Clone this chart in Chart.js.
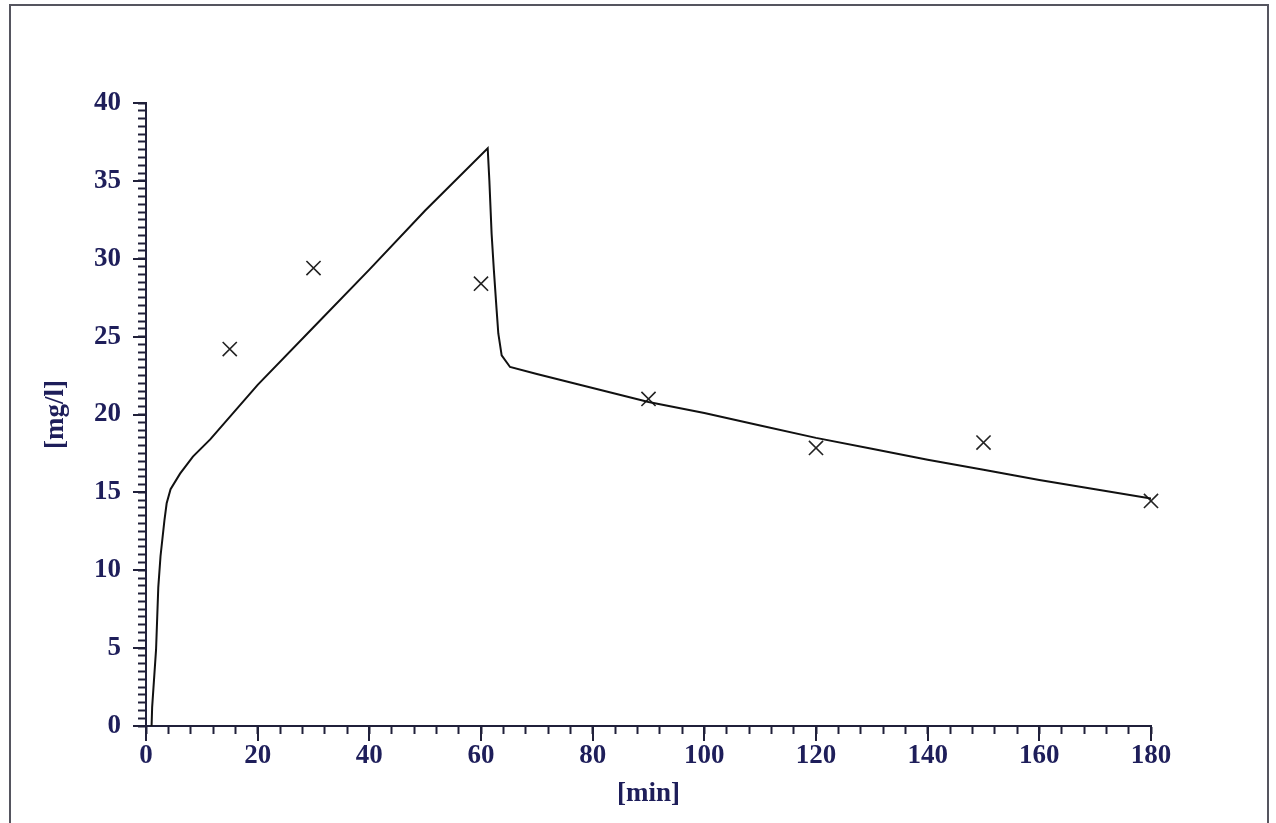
<!DOCTYPE html>
<html>
<head>
<meta charset="utf-8">
<script src="https://cdn.jsdelivr.net/npm/chart.js@4/dist/chart.umd.min.js"></script>
<style>
  html, body { margin: 0; padding: 0; background: #ffffff; overflow: hidden; }
  #wrap { position: relative; width: 1276px; height: 823px; }
  #frame { position: absolute; left: 9px; top: 4px; width: 1260px; height: 830px; border: 2px solid #55555f; box-sizing: border-box; }
  canvas { position: absolute; left: 0; top: 0; }
</style>
</head>
<body>
<div id="wrap">
  <div id="frame"></div>
  <canvas id="myChart" width="1276" height="823"></canvas>
</div>
<script>
// model curve
var lineTimes = [1.0, 1.1, 1.8, 2.2, 2.6, 3.3, 3.7, 4.4, 6.1, 8.4, 11.5, 20, 30, 40, 50, 61.2, 61.5, 61.9, 62.3, 62.8, 63.1, 63.7, 65.2, 70, 80, 90, 100, 110, 120, 130, 140, 150, 160, 170, 180];
var lineConc = [0, 1.2, 4.9, 8.9, 10.9, 13.2, 14.3, 15.2, 16.2, 17.3, 18.4, 21.9, 25.6, 29.3, 33.1, 37.1, 35.0, 31.6, 29.3, 26.7, 25.2, 23.8, 23.05, 22.6, 21.7, 20.8, 20.1, 19.3, 18.5, 17.8, 17.1, 16.45, 15.8, 15.2, 14.6];

// measured samples
var sampleTimes = [15, 30, 60, 90, 120, 150, 180];
var sampleConc = [24.2, 29.4, 28.4, 21.0, 17.85, 18.2, 14.45];

var xLabels = [0, 20, 40, 60, 80, 100, 120, 140, 160, 180];
var yLabels = [0, 5, 10, 15, 20, 25, 30, 35, 40];

var textColor = '#1e1e5a';
var axisColor = '#20203a';
var labelFont = { family: "'Liberation Serif', serif", size: 27, weight: 'bold' };

function toPoints(xs, ys) {
	var pts = [];
	for (var i = 0; i < xs.length; i++) pts.push({ x: xs[i], y: ys[i] });
	return pts;
}

// longer ticks at the labelled values
var majorTicks = {
	id: 'majorTicks',
	afterDraw: function(chart) {
		var c = chart.ctx, xs = chart.scales.x, ys = chart.scales.y;
		c.save();
		c.strokeStyle = axisColor;
		c.lineWidth = 2;
		c.beginPath();
		xLabels.forEach(function(v) {
			var px = Math.round(xs.getPixelForValue(v));
			c.moveTo(px, ys.bottom);
			c.lineTo(px, ys.bottom + 15);
		});
		yLabels.forEach(function(v) {
			var py = Math.round(ys.getPixelForValue(v));
			c.moveTo(xs.left, py);
			c.lineTo(xs.left - 13, py);
		});
		c.stroke();
		c.restore();
	}
};

var ctx = document.getElementById('myChart').getContext('2d');
var myChart = new Chart(ctx, {
	type: 'scatter',
	data: {
		datasets: [{
			label: 'model',
			data: toPoints(lineTimes, lineConc),
			showLine: true,
			borderColor: '#111111',
			borderWidth: 2,
			pointRadius: 0,
			tension: 0
		}, {
			label: 'samples',
			data: toPoints(sampleTimes, sampleConc),
			showLine: false,
			clip: false,
			pointStyle: 'crossRot',
			pointRadius: 10,
			borderColor: '#222222',
			borderWidth: 1.6
		}]
	},
	options: {
		responsive: false,
		animation: false,
		layout: { padding: { left: 30, top: 103, right: 125, bottom: 0 } },
		plugins: { legend: { display: false }, tooltip: { enabled: false } },
		scales: {
			x: {
				type: 'linear',
				min: 0,
				max: 180,
				afterFit: function(scale) { scale.height = 97; },
				ticks: {
					stepSize: 4,
					autoSkip: false,
					maxRotation: 0,
					padding: 6,
					color: textColor,
					font: labelFont,
					callback: function(v) { return v % 20 === 0 ? v : ''; }
				},
				grid: { drawOnChartArea: false, drawTicks: true, tickLength: 8, tickColor: axisColor, tickWidth: 2 },
				border: { display: true, color: axisColor, width: 2 },
				title: { display: true, text: '[min]', color: textColor, font: labelFont, padding: { top: 0, bottom: 13 } }
			},
			y: {
				type: 'linear',
				min: 0,
				max: 40,
				afterFit: function(scale) { scale.width = 116; },
				ticks: {
					stepSize: 0.5,
					autoSkip: false,
					padding: 17,
					color: textColor,
					font: labelFont,
					callback: function(v) { return v % 5 === 0 ? v : ''; }
				},
				grid: { drawOnChartArea: false, drawTicks: true, tickLength: 8, tickColor: axisColor, tickWidth: 2 },
				border: { display: true, color: axisColor, width: 2 },
				title: { display: true, text: '[mg/l]', color: textColor, font: labelFont, padding: { top: 10, bottom: 0 } }
			}
		}
	},
	plugins: [majorTicks]
});
</script>
</body>
</html>
